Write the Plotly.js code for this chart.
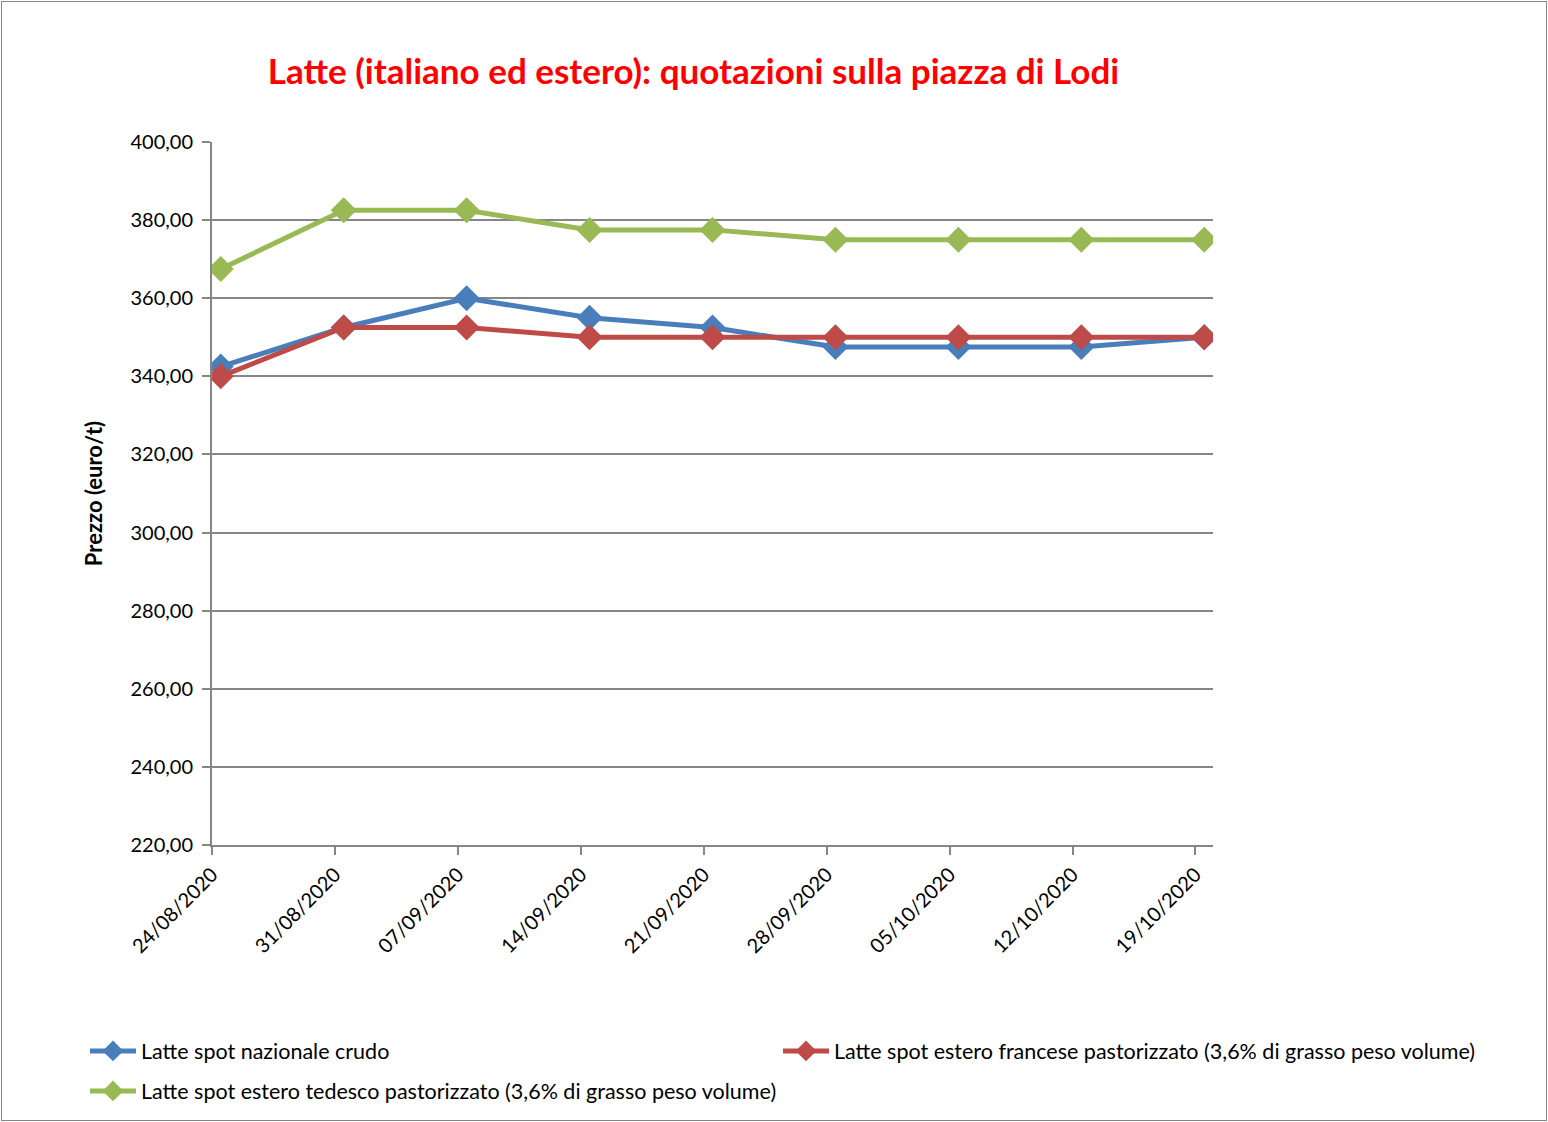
<!DOCTYPE html>
<html>
<head>
<meta charset="utf-8">
<script src="https://cdn.plot.ly/plotly-3.0.1.min.js"></script>
<style>
html,body{margin:0;padding:0;background:#fff;}
#frame{position:absolute;left:1px;top:1px;width:1544px;height:1118px;border:1px solid #868686;}
#chart{position:absolute;left:0;top:0;width:1548px;height:1122px;}
</style>
</head>
<body>
<div id="frame"></div>
<div id="chart"></div>
<script>
const dates = ['2020-08-24','2020-08-31','2020-09-07','2020-09-14','2020-09-21','2020-09-28','2020-10-05','2020-10-12','2020-10-19'];
const tickLabels = ['24/08/2020','31/08/2020','07/09/2020','14/09/2020','21/09/2020','28/09/2020','05/10/2020','12/10/2020','19/10/2020'];
const nazionale = [342.5, 352.5, 360.0, 355.0, 352.5, 347.5, 347.5, 347.5, 350.0];
const francese  = [340.0, 352.5, 352.5, 350.0, 350.0, 350.0, 350.0, 350.0, 350.0];
const tedesco   = [367.5, 382.5, 382.5, 377.5, 377.5, 375.0, 375.0, 375.0, 375.0];
const names = ['Latte spot nazionale crudo',
  'Latte spot estero francese pastorizzato (3,6% di grasso peso volume)',
  'Latte spot estero tedesco pastorizzato (3,6% di grasso peso volume)'];
const colors = ['#4A7EBB','#BE4B48','#98B954'];
const legendIds = ['legend','legend2','legend3'];

// points sit in the middle of each day (Excel date axis)
const xs = dates.map(d => d + ' 12:00');
const series = [nazionale, francese, tedesco];
const traces = series.map((s, i) => ({
  x: xs, y: s, name: names[i], type: 'scatter', mode: 'lines+markers',
  legend: legendIds[i],
  line: {color: colors[i], width: 5},
  marker: {symbol: 'diamond', size: 20, color: colors[i]}
}));

const font = 'Lato, "Open Sans", sans-serif';
function leg(x, y) {
  return {xref: 'container', yref: 'container', x: x, y: y, xanchor: 'left', yanchor: 'middle',
    orientation: 'h', font: {family: font, size: 21.5, color: '#000'}, itemwidth: 46,
    bgcolor: 'rgba(0,0,0,0)'};
}
const layout = {
  width: 1548, height: 1122,
  paper_bgcolor: 'rgba(0,0,0,0)', plot_bgcolor: 'rgba(0,0,0,0)',
  separators: ',.',
  margin: {l: 212, r: 335, t: 142, b: 277},
  font: {family: font, size: 20, color: '#000'},
  title: {text: '<b>Latte (italiano ed estero): quotazioni sulla piazza di Lodi</b>',
    font: {family: font, size: 35, color: '#FF0000'},
    x: 0.448, xanchor: 'center', y: 0.936, yanchor: 'middle'},
  xaxis: {type: 'date', range: ['2020-08-24', '2020-10-20'],
    tickvals: dates, ticktext: tickLabels, tickangle: -45,
    showgrid: false, showline: true, linecolor: '#868686', linewidth: 2,
    ticks: 'outside', ticklen: 8, tickcolor: '#868686', tickwidth: 2,
    tickfont: {family: font, size: 20}, zeroline: false, automargin: false},
  yaxis: {range: [220, 400], dtick: 20, tick0: 220, tickformat: '.2f',
    showgrid: true, gridcolor: '#868686', gridwidth: 2,
    showline: true, linecolor: '#868686', linewidth: 2,
    ticks: 'outside', ticklen: 8, tickcolor: '#868686', tickwidth: 2,
    tickfont: {family: font, size: 20}, zeroline: false, automargin: false,
    ticklabelstandoff: 5,
    title: {text: '<b>Prezzo (euro/t)</b>', font: {family: font, size: 22}, standoff: 22}},
  showlegend: true,
  legend: leg(85/1548, 1 - 1051/1122),
  legend2: leg(778/1548, 1 - 1051/1122),
  legend3: leg(85/1548, 1 - 1091/1122)
};
Plotly.newPlot('chart', traces, layout, {displayModeBar: false});
</script>
</body>
</html>
